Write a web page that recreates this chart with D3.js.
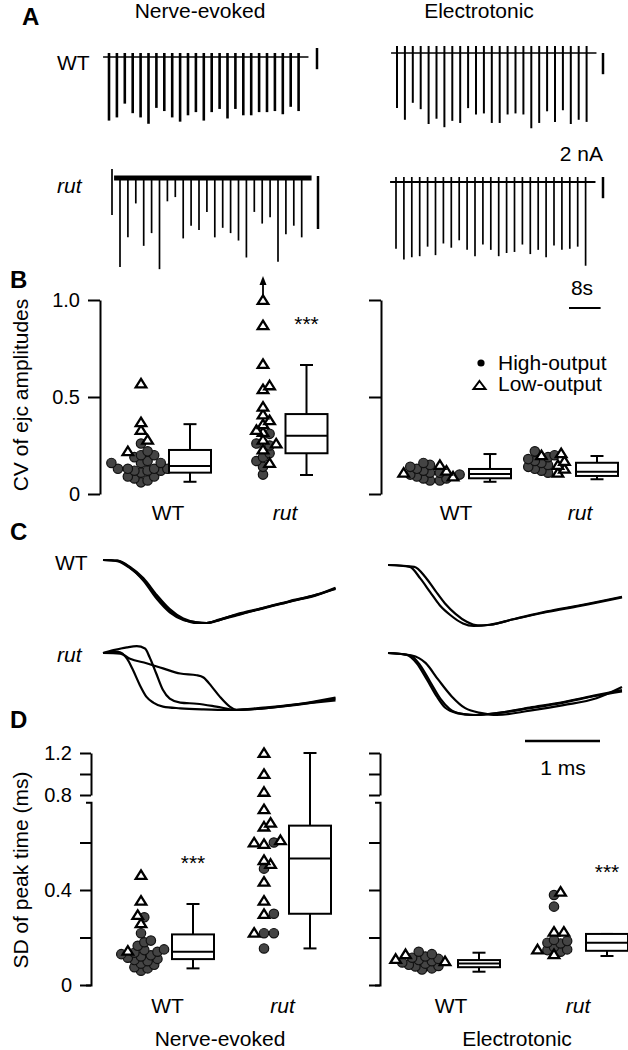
<!DOCTYPE html>
<html lang="en">
<head>
<meta charset="UTF-8" />
<title>ejc variability in rut</title>
<script src="https://d3js.org/d3.v7.min.js"></script>
<style>
  body { margin: 0; background: #fff; }
  svg { display: block; font-family: "Liberation Sans", Arial, sans-serif; }
  .lbl { font-size: 21px; }
  .tick text { font-size: 20px; font-family: "Liberation Sans", Arial, sans-serif; }
  .tick line, .domain { stroke-width: 2; }
  .panel { font-size: 24px; font-weight: bold; }
</style>
</head>
<body>
<svg width="628" height="1050"></svg>
<script>
// ---- A: ejc amplitudes (nA), one per stimulus, 0.5 Hz
const stimInterval = 2;
const wtNerveAmp = [6.0,5.7,4.4,5.3,5.7,6.3,4.8,5.1,5.7,6.1,5.5,5.2,6.0,5.2,4.9,5.8,4.9,5.5,5.5,5.2,5.2,5.1,5.4,4.7,5.1];
const wtElecAmp = [5.2,6.3,4.7,5.3,6.7,6.2,7.0,6.4,6.6,5.2,5.8,5.7,6.6,6.6,5.8,5.7,5.8,7.1,6.6,5.5,6.5,5.4,6.7,6.3,6.5];
const rutNerveAmp = [8.4,5.6,2.4,6.4,5.2,8.6,2.2,1.8,5.7,4.5,4.9,3.2,5.6,4.7,5.2,5.9,7.5,3.2,4.3,3.7,7.9,5.3,4.5,5.6];
const rutElecAmp = [6.3,7.3,7.1,7.0,6.1,6.9,5.8,6.2,5.5,6.4,7.0,5.9,6.4,7.0,6.7,6.6,5.9,6.8,6.4,7.1,6.0,6.4,6.3,6.1,7.9];

// ---- B: CV of ejc amplitudes
const bNerveWtHigh = [0.26,0.22,0.20,0.20,0.19,0.17,0.16,0.16,0.16,0.13,0.13,0.13,0.13,0.12,0.12,0.12,0.11,0.09,0.09,0.08,0.07,0.06];
const bNerveWtLow = [0.57,0.37,0.33,0.28,0.22];
const bNerveRutHigh = [0.31,0.26,0.25,0.21,0.19,0.17,0.14,0.10];
const bNerveRutLow = [1.0,0.87,0.67,0.56,0.54,0.45,0.41,0.38,0.36,0.33,0.32,0.28,0.26,0.23,0.16];
const bElecWtHigh = [0.16,0.15,0.14,0.13,0.12,0.11,0.11,0.10,0.10,0.09,0.08,0.08,0.07,0.07];
const bElecWtLow = [0.15,0.12,0.11,0.09];
const bElecRutHigh = [0.22,0.20,0.19,0.18,0.17,0.16,0.15,0.14,0.13,0.12,0.11];
const bElecRutLow = [0.21,0.20,0.17,0.15,0.13,0.11];
// [low whisker, q1, median, q3, high whisker]
const bBoxNerveWt = [0.063,0.11,0.144,0.227,0.36];
const bBoxNerveRut = [0.098,0.21,0.30,0.412,0.665];
const bBoxElecWt = [0.063,0.081,0.103,0.129,0.206];
const bBoxElecRut = [0.076,0.093,0.115,0.161,0.196];

// ---- C: normalised ejc waveforms, [ms, fraction of peak]
const cWtNerve = [
  [[0,0],[0.19,0.01],[0.36,0.11],[0.54,0.29],[0.72,0.56],[0.89,0.78],[1.07,0.93],[1.25,0.99],[1.38,1.0],[1.56,0.94],[1.78,0.87],[2.14,0.77],[2.49,0.66],[2.85,0.56],[3.1,0.45]],
  [[0,0],[0.19,0.01],[0.36,0.12],[0.54,0.33],[0.72,0.62],[0.89,0.83],[1.07,0.95],[1.25,0.99],[1.38,1.0],[1.56,0.95],[1.78,0.88],[2.14,0.76],[2.49,0.66],[2.85,0.55],[3.1,0.46]],
  [[0,0],[0.19,0.02],[0.36,0.13],[0.54,0.31],[0.72,0.58],[0.89,0.81],[1.07,0.94],[1.25,1.0],[1.38,1.0],[1.56,0.95],[1.78,0.86],[2.14,0.76],[2.49,0.65],[2.85,0.55],[3.1,0.44]]
];
const cRutNerve = [
  [[0,0],[0.2,-0.02],[0.32,0.1],[0.40,0.30],[0.49,0.56],[0.58,0.77],[0.67,0.87],[0.80,0.94],[1.03,0.97],[1.34,0.99],[1.69,1.0],[2.14,0.96],[2.58,0.90],[3.1,0.83]],
  [[0,0],[0.14,-0.05],[0.32,-0.1],[0.45,-0.12],[0.56,-0.08],[0.62,0.07],[0.71,0.36],[0.80,0.65],[0.89,0.80],[1.03,0.87],[1.25,0.89],[1.51,0.94],[1.78,1.0],[2.14,0.97],[2.58,0.91],[3.1,0.80]],
  [[0,0],[0.23,0.01],[0.36,0.10],[0.58,0.18],[0.80,0.27],[1.03,0.36],[1.25,0.39],[1.34,0.43],[1.45,0.59],[1.56,0.77],[1.69,0.94],[1.78,1.0],[2.14,0.97],[2.58,0.90],[3.1,0.78]]
];
const cWtElec = [
  [[0,0],[0.29,0.03],[0.43,0.22],[0.56,0.44],[0.69,0.66],[0.83,0.82],[1.0,0.96],[1.14,1.0],[1.36,0.98],[1.67,0.89],[2.12,0.77],[2.56,0.67],[3.12,0.53]],
  [[0,0],[0.35,0.03],[0.5,0.2],[0.63,0.42],[0.76,0.63],[0.9,0.8],[1.05,0.93],[1.2,0.99],[1.36,0.98],[1.67,0.89],[2.12,0.76],[2.56,0.66],[3.12,0.52]]
];
const cRutElec = [
  [[0,0],[0.25,0.03],[0.38,0.16],[0.52,0.43],[0.65,0.70],[0.76,0.88],[0.92,0.97],[1.14,1.0],[1.45,0.97],[1.89,0.89],[2.34,0.80],[2.78,0.69],[3.12,0.62]],
  [[0,0],[0.3,0.04],[0.43,0.2],[0.56,0.46],[0.7,0.74],[0.82,0.9],[0.98,0.98],[1.2,1.0],[1.45,0.97],[1.89,0.88],[2.34,0.79],[2.78,0.68],[3.12,0.60]],
  [[0,0],[0.32,0.04],[0.5,0.16],[0.67,0.43],[0.85,0.70],[1.03,0.89],[1.25,0.97],[1.45,1.0],[1.89,0.93],[2.34,0.84],[2.78,0.73],[3.12,0.55]]
];

// ---- D: SD of peak time (ms)
const dNerveWtHigh = [0.285,0.218,0.187,0.18,0.165,0.15,0.147,0.14,0.136,0.13,0.125,0.12,0.115,0.11,0.105,0.10,0.09,0.085,0.075,0.07,0.06];
const dNerveWtLow = [0.463,0.355,0.295,0.26,0.144];
const dNerveRutHigh = [0.60,0.49,0.30,0.218,0.218,0.154];
const dNerveRutLow = [1.2,1.0,0.83,0.74,0.683,0.667,0.61,0.60,0.594,0.526,0.51,0.435,0.355,0.299,0.22];
const dElecWtHigh = [0.14,0.13,0.12,0.115,0.11,0.105,0.10,0.095,0.09,0.085,0.08,0.078,0.07,0.065];
const dElecWtLow = [0.13,0.11,0.10];
const dElecRutHigh = [0.379,0.33,0.19,0.185,0.178,0.175,0.16,0.15,0.147,0.14];
const dElecRutLow = [0.393,0.224,0.224,0.15,0.13];
const dBoxNerveWt = [0.07,0.109,0.14,0.213,0.341];
const dBoxNerveRut = [0.154,0.30,0.533,0.671,1.2];
const dBoxElecWt = [0.056,0.075,0.091,0.105,0.136];
const dBoxElecRut = [0.122,0.144,0.178,0.215,0.215];

const genotypes = ["WT", "rut"];
const preps = ["Nerve-evoked", "Electrotonic"];

const svg = d3.select("svg");

function text(x, y, s, opts = {}) {
  const t = svg.append("text").attr("x", x).attr("y", y).attr("class", opts.cls || "lbl")
    .attr("text-anchor", opts.anchor || "start").text(s);
  if (opts.italic) t.attr("font-style", "italic");
  if (opts.rotate) t.attr("transform", `rotate(-90,${x},${y})`);
  return t;
}

// panel letters
text(22, 25, "A", {cls: "panel"});
text(10, 288, "B", {cls: "panel"});
text(10, 540, "C", {cls: "panel"});
text(10, 728, "D", {cls: "panel"});

// column titles
text(200, 18, preps[0], {anchor: "middle"});
text(479, 18, preps[1], {anchor: "middle"});

// ================= A =================
const pxPerNA = 10.6, pxPerSec = 3.95;
const aTraces = [
  {amps: wtNerveAmp, x0: 109, base: 57, stub: 4, w: 2.6, bw: 1.6},
  {amps: wtElecAmp, x0: 397, base: 53, stub: 7, w: 2, bw: 1.6},
  {amps: rutNerveAmp, x0: 120, base: 178, stub: 0, w: 1.7, bw: 5},
  {amps: rutElecAmp, x0: 396, base: 182, stub: 5, w: 1.7, bw: 2}
];
aTraces.forEach(tr => {
  const x = d3.scaleLinear().domain([0, 1]).range([tr.x0, tr.x0 + pxPerSec]);
  const y = d3.scaleLinear().domain([0, 1]).range([tr.base, tr.base + pxPerNA]);
  const g = svg.append("g").attr("stroke", "#000");
  const tEnd = (tr.amps.length - 1) * stimInterval;
  g.append("line").attr("x1", x(-1.5)).attr("x2", x(tEnd + 2.5))
    .attr("y1", y(0)).attr("y2", y(0)).attr("stroke-width", tr.bw);
  g.selectAll(".spk").data(tr.amps).join("line")
    .attr("x1", (d, i) => x(i * stimInterval)).attr("x2", (d, i) => x(i * stimInterval))
    .attr("y1", y(0) - tr.stub).attr("y2", d => y(d))
    .attr("stroke-width", tr.w);
});
// stimulus artifact at start of rut nerve-evoked trace
svg.append("line").attr("x1", 112).attr("x2", 112).attr("y1", 169).attr("y2", 215)
  .attr("stroke", "#000").attr("stroke-width", 1.7);
// scale bars
[[317, 48, 2], [603, 53, 2], [318, 176, 5], [603, 177, 2]].forEach(([bx, by, na]) => {
  svg.append("line").attr("x1", bx).attr("x2", bx).attr("y1", by).attr("y2", by + na * pxPerNA)
    .attr("stroke", "#000").attr("stroke-width", 2.5);
});
text(603, 161, "2 nA", {anchor: "end"});
text(582, 295, "8s", {anchor: "middle"});
svg.append("line").attr("x1", 569).attr("x2", 569 + 8 * pxPerSec).attr("y1", 308).attr("y2", 308)
  .attr("stroke", "#000").attr("stroke-width", 2);
text(57, 70, "WT");
text(57, 193, "rut", {italic: true});

// ================= shared: scatter + box =================
const R = 4.7;
const triPath = "M0,-4.6L5.3,3.9L-5.3,3.9Z";
// simple beeswarm: dots may overlap a little, as in the original figure
function layoutSwarm(items, cx, y) {
  const placed = [];
  const step = R * 0.7;
  items.slice().sort((a, b) => a.v - b.v).forEach(p => {
    const py = y(p.v);
    for (let k = 0; k < 80; k++) {
      const px = cx + (k % 2 ? 1 : -1) * Math.ceil(k / 2) * step;
      if (placed.every(q => Math.hypot(q.x - px, q.y - py) >= 2 * R * 0.72)) {
        placed.push({...p, x: px, y: py});
        break;
      }
    }
  });
  return placed;
}
function drawGroup(y, top, spec) {
  const items = spec.high.map(v => ({v, kind: "high"})).concat(spec.low.map(v => ({v, kind: "low"})));
  const pts = layoutSwarm(items, spec.px, y);
  const g = svg.append("g");
  g.selectAll("circle").data(pts.filter(p => p.kind === "high")).join("circle")
    .attr("cx", d => d.x).attr("cy", d => d.y).attr("r", R)
    .attr("fill", "#444").attr("stroke", "#111").attr("stroke-width", 1.2);
  g.selectAll("path.tri").data(pts.filter(p => p.kind === "low")).join("path")
    .attr("class", "tri").attr("d", triPath)
    .attr("transform", d => `translate(${d.x},${d.y})`)
    .attr("fill", "#fff").attr("stroke", "#000").attr("stroke-width", 2.3);
  // off-scale arrow
  pts.filter(p => top !== null && p.v >= top).forEach(p => {
    g.append("line").attr("x1", p.x).attr("x2", p.x).attr("y1", p.y - 5).attr("y2", p.y - 16)
      .attr("stroke", "#000").attr("stroke-width", 1.8);
    g.append("path").attr("d", `M${p.x},${p.y - 24}L${p.x + 3.5},${p.y - 15}L${p.x - 3.5},${p.y - 15}Z`)
      .attr("fill", "#000");
  });
  const [lo, q1, med, q3, hi] = spec.box;
  const bw = 42, cw = 13, bx = spec.bx;
  const b = svg.append("g").attr("stroke", "#000").attr("stroke-width", 2).attr("fill", "none");
  b.append("line").attr("x1", bx).attr("x2", bx).attr("y1", y(hi)).attr("y2", y(lo));
  b.append("line").attr("x1", bx - cw / 2).attr("x2", bx + cw / 2).attr("y1", y(hi)).attr("y2", y(hi));
  b.append("line").attr("x1", bx - cw / 2).attr("x2", bx + cw / 2).attr("y1", y(lo)).attr("y2", y(lo));
  b.append("rect").attr("x", bx - bw / 2).attr("width", bw).attr("y", y(q3)).attr("height", y(q1) - y(q3))
    .attr("fill", "#fff");
  b.append("line").attr("x1", bx - bw / 2).attr("x2", bx + bw / 2).attr("y1", y(med)).attr("y2", y(med));
}

// ================= B =================
const yB = d3.scaleLinear().domain([0, 1]).range([494, 300]);
svg.append("g").attr("transform", "translate(100,0)")
  .call(d3.axisLeft(yB).tickValues([0, 0.5, 1]).tickFormat(d => d === 0 ? "0" : d3.format(".1f")(d))
    .tickSize(12).tickSizeOuter(0).tickPadding(8));
svg.append("g").attr("transform", "translate(381,0)")
  .call(d3.axisLeft(yB).tickValues([0, 0.5, 1]).tickFormat("").tickSize(12).tickSizeOuter(0));
text(28, 395, "CV of ejc amplitudes", {anchor: "middle", rotate: true});

[
  {high: bNerveWtHigh, low: bNerveWtLow, box: bBoxNerveWt, px: 141, bx: 190},
  {high: bNerveRutHigh, low: bNerveRutLow, box: bBoxNerveRut, px: 263, bx: 306.5},
  {high: bElecWtHigh, low: bElecWtLow, box: bBoxElecWt, px: 430, bx: 490},
  {high: bElecRutHigh, low: bElecRutLow, box: bBoxElecRut, px: 548, bx: 597}
].forEach(s => drawGroup(yB, 1, s));
text(306.5, yB(0.84), "***", {anchor: "middle"});
[[168, 0], [285, 1], [456, 0], [580, 1]].forEach(([x, i]) =>
  text(x, 519.5, genotypes[i], {anchor: "middle", italic: i === 1}));

// legend
svg.append("circle").attr("cx", 481).attr("cy", 363).attr("r", 3.6).attr("fill", "#000");
text(498, 369.5, "High-output");
svg.append("path").attr("d", "M0,-4L6,4L-6,4Z").attr("transform", "translate(479.5,385)")
  .attr("fill", "#fff").attr("stroke", "#000").attr("stroke-width", 2);
text(498, 391, "Low-output");

// ================= C =================
const pxPerMs = 75;
const cRows = [
  {traces: cWtNerve, x0: 103, base: 560, h: 63},
  {traces: cRutNerve, x0: 103, base: 653, h: 57},
  {traces: cWtElec, x0: 388, base: 565, h: 61},
  {traces: cRutElec, x0: 388, base: 653, h: 62}
];
cRows.forEach(row => {
  const x = d3.scaleLinear().domain([0, 1]).range([row.x0, row.x0 + pxPerMs]);
  const y = d3.scaleLinear().domain([0, 1]).range([row.base, row.base + row.h]);
  const line = d3.line().x(d => x(d[0])).y(d => y(d[1])).curve(d3.curveMonotoneX);
  svg.append("g").selectAll("path").data(row.traces).join("path")
    .attr("d", line).attr("fill", "none").attr("stroke", "#000").attr("stroke-width", 2.2);
});
text(55, 570, "WT");
text(57, 662, "rut", {italic: true});
svg.append("line").attr("x1", 525).attr("x2", 525 + pxPerMs).attr("y1", 741).attr("y2", 741)
  .attr("stroke", "#000").attr("stroke-width", 2.5);
text(563, 775, "1 ms", {anchor: "middle"});

// ================= D =================
const yDlow = d3.scaleLinear().domain([0, 0.77]).range([985, 985 - 0.77 * 237.5]);
const yDhigh = d3.scaleLinear().domain([0.8, 1.2]).range([795, 753]);
const yD = v => v <= 0.77 ? yDlow(v) : yDhigh(Math.max(v, 0.8));
[[91, true], [380, false]].forEach(([ax, labels]) => {
  svg.append("g").attr("transform", `translate(${ax},0)`)
    .call(d3.axisLeft(yDlow).tickValues([0, 0.2, 0.4, 0.6])
      .tickFormat(d => !labels ? "" : d === 0 ? "0" : d === 0.4 ? "0.4" : "")
      .tickSize(11).tickSizeOuter(5).tickPadding(8));
  svg.append("g").attr("transform", `translate(${ax},0)`)
    .call(d3.axisLeft(yDhigh).tickValues([0.8, 1.0, 1.2])
      .tickFormat(d => !labels || d === 1 ? "" : d.toFixed(1))
      .tickSize(11).tickSizeOuter(0).tickPadding(8));
});
text(28, 870, "SD of peak time (ms)", {anchor: "middle", rotate: true});

[
  {high: dNerveWtHigh, low: dNerveWtLow, box: dBoxNerveWt, px: 141, bx: 193},
  {high: dNerveRutHigh, low: dNerveRutLow, box: dBoxNerveRut, px: 264, bx: 310},
  {high: dElecWtHigh, low: dElecWtLow, box: dBoxElecWt, px: 422, bx: 479},
  {high: dElecRutHigh, low: dElecRutLow, box: dBoxElecRut, px: 554, bx: 607}
].forEach(s => drawGroup(yD, null, s));
text(193, yD(0.484), "***", {anchor: "middle"});
text(607, yD(0.446), "***", {anchor: "middle"});
[[167.5, 0], [282.5, 1], [451, 0], [578, 1]].forEach(([x, i]) =>
  text(x, 1013, genotypes[i], {anchor: "middle", italic: i === 1}));
text(220, 1046, preps[0], {anchor: "middle"});
text(517, 1046, preps[1], {anchor: "middle"});
</script>
</body>
</html>
